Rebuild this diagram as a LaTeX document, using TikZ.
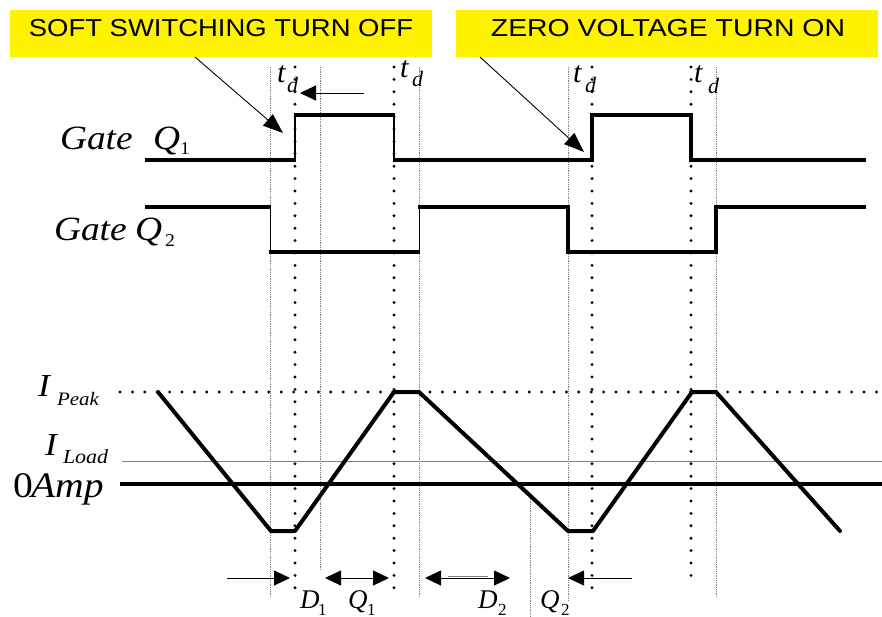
\documentclass[tikz,border=0pt]{standalone}
\usepackage{fontspec}
\setmainfont{Liberation Serif}
\newfontfamily\arialf{Liberation Sans}
\usepackage{graphicx}
\usetikzlibrary{arrows.meta}
\newcommand\hsc[2]{\scalebox{#1}[1]{#2}}
\newcommand\myfs[1]{\fontsize{#1}{#1}\selectfont}
\tikzset{
  sig/.style={line width=3.6pt},
  edgethin/.style={line width=1.6pt},
  edgehair/.style={line width=1pt},
  cur/.style={line width=4pt, line cap=round, line join=round},
  dotv/.style={line width=3.2pt, line cap=round, dash pattern=on 0pt off 12.4pt},
  thinv/.style={draw=gray, line width=0.6pt, dash pattern=on 0.8pt off 1pt},
  thinarrow/.style={line width=0.9pt, -{Triangle[length=16pt,width=15pt]}},
  dblarrow/.style={line width=0.9pt, {Triangle[length=16pt,width=15pt]}-{Triangle[length=16pt,width=15pt]}},
  callout/.style={line width=0.9pt, -{Triangle[length=20pt,width=15pt]}},
  ybox/.style={fill=yellow, draw=none, inner sep=0pt, minimum width=422pt, minimum height=47pt},
  txt/.style={inner sep=0pt, outer sep=0pt, anchor=base west},
  boxtxt/.style={inner sep=0pt, outer sep=0pt, anchor=base, font=\arialf\myfs{24.5}},
}
\begin{document}
\begin{tikzpicture}[x=1pt,y=-1pt]
\useasboundingbox (0,0) rectangle (882,617);
% yellow boxes
\node[ybox] (b1) at (221,33.5) {};
\node[ybox] (b2) at (667,33.5) {};
\node[boxtxt] (l1) at (221,37) {\hsc{1.12}{SOFT SWITCHING TURN OFF}};
\node[boxtxt] (l2) at (668,37) {\hsc{1.16}{ZERO VOLTAGE TURN ON}};
% thin dotted verticals
\draw[thinv] (270,67) -- (270,598);
\draw[thinv] (320,67) -- (320,570);
\draw[thinv] (419,67) -- (419,598);
\draw[thinv] (530,497) -- (530,617);
\draw[thinv] (568,67) -- (568,600);
\draw[thinv] (716,67) -- (716,598);
% thick dotted verticals
\draw[dotv] (295,67) -- (295,590);
\draw[dotv] (394,67) -- (394,590);
\draw[dotv] (592,67) -- (592,590);
\draw[dotv] (691,67) -- (691,578);
% Gate Q1
\draw[sig] (145,160) -- (296,160);
\draw[edgethin] (295,160) -- (295,115);
\draw[sig] (294,115) -- (395,115);
\draw[edgethin] (394,115) -- (394,160);
\draw[sig] (393,160) -- (592,160) -- (592,115) -- (691,115) -- (691,160) -- (866,160);
% Gate Q2
\draw[sig] (145,207) -- (271,207);
\draw[edgehair] (270,207) -- (270,252);
\draw[sig] (269,252) -- (420,252);
\draw[edgehair] (419,252) -- (419,207);
\draw[sig] (418,207) -- (568,207) -- (568,252) -- (716,252) -- (716,207) -- (866,207);
% current axes
\draw[dotv] (120,392) -- (882,392);
\draw[draw=gray, line width=1pt] (122,461) -- (882,461);
\draw[line width=4pt] (120,484) -- (882,484);
% current waveform
\draw[cur] (158,392) -- (271,531) -- (295,531) -- (394,392) -- (419,392) -- (568,531) -- (593,531) -- (692,392) -- (716,392) -- (840,531);
% labels left
\node[txt, font=\myfs{34}\itshape] (gate1) at (60,150) {\hsc{1.1}{Gate}};
\node[txt, font=\myfs{34}\itshape] (gq1) at (153,150) {\hsc{1.1}{Q}};
\node[txt, font=\myfs{18}] (gq1s) at (180,155) {\hsc{1.1}{1}};
\node[txt, font=\myfs{34}\itshape] (gate2) at (54,241) {\hsc{1.1}{Gate}};
\node[txt, font=\myfs{34}\itshape] (gq2) at (135,241) {\hsc{1.1}{Q}};
\node[txt, font=\myfs{18}] (gq2s) at (165,247) {\hsc{1.1}{2}};
\node[txt, font=\myfs{32}\itshape] (ip) at (38,396) {\hsc{1.1}{I}};
\node[txt, font=\myfs{19}\itshape] (ips) at (57,405) {\hsc{1.1}{Peak}};
\node[txt, font=\myfs{32}\itshape] (il) at (45,455) {\hsc{1.1}{I}};
\node[txt, font=\myfs{20}\itshape] (ils) at (63,463) {\hsc{1.1}{Load}};
\node[txt, font=\myfs{36}] (zero) at (13,497) {\hsc{1.1}{0}};
\node[txt, font=\myfs{36}\itshape] (amp) at (31,497) {\hsc{1.1}{Amp}};
% t_d labels
\node[txt, font=\myfs{30}\itshape] (t1) at (277,83) {t};
\node[txt, font=\myfs{22}\itshape] (d1) at (287,93) {d};
\node[txt, font=\myfs{30}\itshape] (t2) at (400,78) {t};
\node[txt, font=\myfs{22}\itshape] (d2) at (412,87) {d};
\node[txt, font=\myfs{30}\itshape] (t3) at (573,83) {t};
\node[txt, font=\myfs{22}\itshape] (d3) at (585,93) {d};
\node[txt, font=\myfs{30}\itshape] (t4) at (694,83) {t};
\node[txt, font=\myfs{22}\itshape] (d4) at (708,94) {d};
% bottom labels
\node[txt, font=\myfs{27}\itshape] (bD1) at (300,608) {D};
\node[txt, font=\myfs{17}] (bD1s) at (318,615) {1};
\node[txt, font=\myfs{27}\itshape] (bQ1) at (348,608) {Q};
\node[txt, font=\myfs{17}] (bQ1s) at (367,615) {1};
\node[txt, font=\myfs{27}\itshape] (bD2) at (478,608) {D};
\node[txt, font=\myfs{17}] (bD2s) at (498,615) {2};
\node[txt, font=\myfs{27}\itshape] (bQ2) at (540,608) {Q};
\node[txt, font=\myfs{17}] (bQ2s) at (561,615) {2};
% callout arrows
\coordinate (s1) at (195,57);
\coordinate (e1) at (283,133);
\coordinate (s2) at (480,57);
\coordinate (e2) at (584,152);
\draw[callout] (s1) -- (e1);
\draw[callout] (s2) -- (e2);
% small arrow top
\coordinate (ta) at (364,93);
\coordinate (tb) at (300,93);
\draw[thinarrow] (ta) -- (tb);
% bottom arrows
\coordinate (a1s) at (227,578);
\coordinate (a1e) at (290,578);
\coordinate (a2s) at (325,578);
\coordinate (a2e) at (389,578);
\coordinate (a3s) at (425,578);
\coordinate (a3e) at (510,578);
\coordinate (g3s) at (448,576.6);
\coordinate (g3e) at (488,576.6);
\coordinate (a4s) at (632,578);
\coordinate (a4e) at (568,578);
\draw[thinarrow] (a1s) -- (a1e);
\draw[dblarrow] (a2s) -- (a2e);
\draw[dblarrow] (a3s) -- (a3e);
\draw[draw=gray, line width=1pt] (g3s) -- (g3e);
\draw[thinarrow] (a4s) -- (a4e);
\end{tikzpicture}
\end{document}
